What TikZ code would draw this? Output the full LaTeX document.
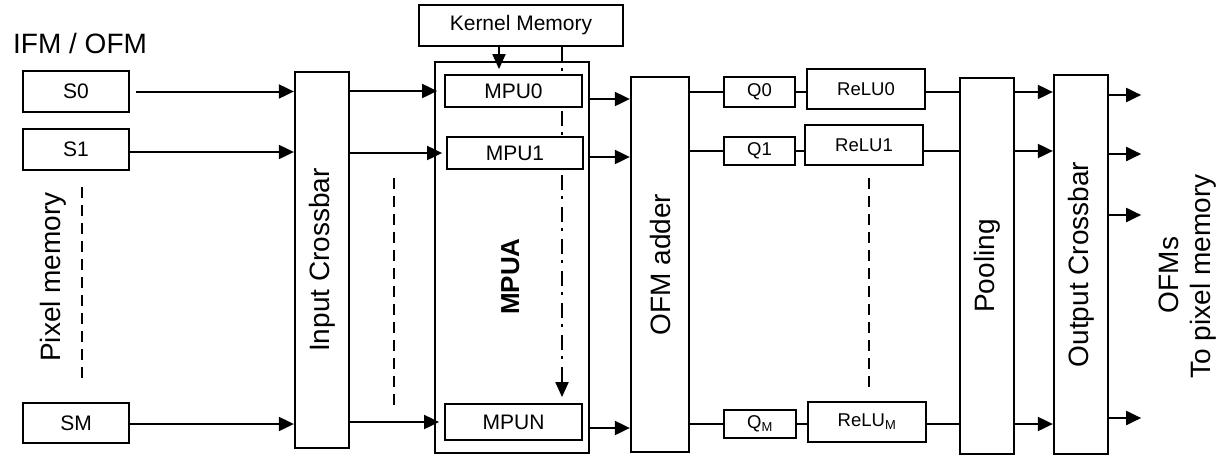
\documentclass[tikz,border=0pt]{standalone}
\usepackage{fontspec}
\setmainfont{Liberation Sans}
\usetikzlibrary{arrows.meta}
\newcommand{\fsz}[1]{\fontsize{#1}{#1}\selectfont}
\begin{document}
\begin{tikzpicture}[x=1pt,y=-1pt,
  box/.style={draw, line width=2.3pt, fill=white, inner sep=0pt, font=\fsz{21}},
  mbox/.style={draw, line width=1.8pt, fill=white, inner sep=0pt, font=\fsz{21}},
  qbox/.style={draw, line width=1.3pt, fill=white, inner sep=0pt, font=\fsz{18.5}},
  rbox/.style={draw, line width=2.3pt, fill=white, inner sep=0pt, font=\fsz{18.5}},
  bar/.style={draw, line width=2.3pt, fill=white, inner sep=0pt},
  big/.style={font=\fsz{28}, inner sep=0pt},
  ln/.style={line width=2pt},
  arr/.style={line width=2pt, -{Triangle[length=15pt,width=14pt]}},
  dsh/.style={line width=2.2pt, dash pattern=on 11pt off 7pt},
  dd/.style={line width=2pt, dash pattern=on 15pt off 6pt on 3pt off 8pt}]
\useasboundingbox (0,0) rectangle (1217,455);

% left side
\node[big, anchor=base west] (ifm) at (13,53) {IFM / OFM};
\node[box, minimum width=106pt, minimum height=41pt] (S0) at (76,91.5) {S0};
\node[box, minimum width=106pt, minimum height=41pt] (S1) at (76,149.5) {S1};
\node[box, minimum width=106pt, minimum height=40pt] (SM) at (76,423) {SM};
\node[big, rotate=90, anchor=base west] (pm) at (60,362) {Pixel memory};
\draw[dsh] (82,187) -- (82,383);

% input crossbar
\node[bar, minimum width=54pt, minimum height=376pt,
  label={[big, rotate=90]center:Input Crossbar}] (ic) at (322,260) {};
\draw[dsh] (394,178) -- (394,412);

% MPUA
\node[box, minimum width=204pt, minimum height=41pt] (KM) at (521,25.5) {Kernel Memory};
\node[bar, minimum width=154pt, minimum height=391pt] (MPUA) at (512,257.5) {};
\node[big, font=\fsz{26}\bfseries, rotate=90, anchor=base west] (mpua) at (519,315) {MPUA};
\coordinate (d) at ([xshift=41pt]KM.south);
\coordinate (k) at ([xshift=-22pt]KM.south);
\node[mbox, minimum width=137pt, minimum height=36pt] (MPUN) at (513.5,422) {MPUN};
\draw[dd, -{Triangle[length=15pt,width=13pt]}, shorten >=6pt] (d) -- (d |- MPUN.north);
\node[mbox, minimum width=137pt, minimum height=32pt] (MPU0) at (513.5,91) {MPU0};
\node[mbox, minimum width=136pt, minimum height=32pt] (MPU1) at (515,153) {MPU1};
\draw[arr, -{Triangle[length=15pt,width=13pt]}, shorten >=5pt] (k) -- (k |- MPU0.north);

% OFM adder
\node[bar, minimum width=58pt, minimum height=375pt,
  label={[big, rotate=90]center:OFM adder}] (adder) at (660,264.5) {};

% Q and ReLU
\node[qbox, minimum width=71pt, minimum height=30pt] (Q0) at (759.5,92) {Q0};
\node[qbox, minimum width=71pt, minimum height=28pt] (Q1) at (759.5,151) {Q1};
\node[qbox, minimum width=72pt, minimum height=28pt] (QM) at (760,424) {Q\textsubscript{M}};
\node[rbox, minimum width=118pt, minimum height=40pt] (R0) at (866,89) {ReLU0};
\node[rbox, minimum width=118pt, minimum height=40pt] (R1) at (864,145) {ReLU1};
\node[rbox, minimum width=118pt, minimum height=40pt] (RM) at (867,422) {ReLU\textsubscript{M}};
\draw[dsh] (869,178) -- (869,393);

% pooling and output crossbar
\node[bar, minimum width=54pt, minimum height=376pt,
  label={[big, rotate=90]center:Pooling}] (pool) at (987,266) {};
\node[bar, minimum width=54pt, minimum height=379pt,
  label={[big, rotate=90]center:Output Crossbar}] (oc) at (1081,264.5) {};
\node[big, rotate=90, anchor=base] (ofms) at (1178,275) {OFMs};
\node[big, rotate=90, anchor=base] (topm) at (1210,276.5) {To pixel memory};

% connectors: memory -> input crossbar
\draw[arr, shorten <=6pt] (S0.east) -- (S0.east -| ic.west);
\coordinate (s1) at ([yshift=-2.5pt]S1.east);
\draw[arr] (s1) -- (s1 -| ic.west);
\coordinate (sm) at ([yshift=-1pt]SM.east);
\draw[arr] (sm) -- (sm -| ic.west);

% input crossbar -> MPUs
\draw[arr, shorten >=7pt] (ic.east |- MPU0.west) -- (MPU0.west);
\draw[arr, shorten >=4pt] (ic.east |- MPU1.west) -- (MPU1.west);
\draw[arr, shorten >=5pt] (ic.east |- MPUN.west) -- (MPUN.west);

% MPUA -> OFM adder
\coordinate (m0) at ([yshift=-8pt]MPU0.east);
\coordinate (m1) at ([yshift=-4pt]MPU1.east);
\coordinate (mn) at ([yshift=-6pt]MPUN.east);
\draw[arr] (m0 -| MPUA.east) -- (m0 -| adder.west);
\draw[arr] (m1 -| MPUA.east) -- (m1 -| adder.west);
\draw[arr] (mn -| MPUA.east) -- (mn -| adder.west);

% rows
\draw[ln] (Q0 -| adder.east) -- (Q0.west);
\draw[ln] (Q0.east) -- (Q0.east -| R0.west);
\draw[ln] (Q0 -| R0.east) -- (Q0 -| pool.west);
\draw[arr] (Q0 -| pool.east) -- (Q0 -| oc.west);
\draw[ln] (Q1 -| adder.east) -- (Q1.west);
\draw[ln] (Q1.east) -- (Q1.east -| R1.west);
\draw[ln] (Q1 -| R1.east) -- (Q1 -| pool.west);
\draw[arr] (Q1 -| pool.east) -- (Q1 -| oc.west);
\draw[ln] (QM -| adder.east) -- (QM.west);
\draw[ln] (QM.east) -- (QM.east -| RM.west);
\draw[ln] (QM -| RM.east) -- (QM -| pool.west);
\draw[arr] (QM -| pool.east) -- (QM -| oc.west);

% output arrows
\coordinate (o1) at (1108,95);
\coordinate (o2) at (1108,154);
\coordinate (o3) at (1108,215);
\coordinate (o4) at (1108,418);
\draw[arr] (o1 -| oc.east) -- ++(32,0);
\draw[arr] (o2 -| oc.east) -- ++(32,0);
\draw[arr] (o3 -| oc.east) -- ++(32,0);
\draw[arr] (o4 -| oc.east) -- ++(32,0);
\end{tikzpicture}
\end{document}
